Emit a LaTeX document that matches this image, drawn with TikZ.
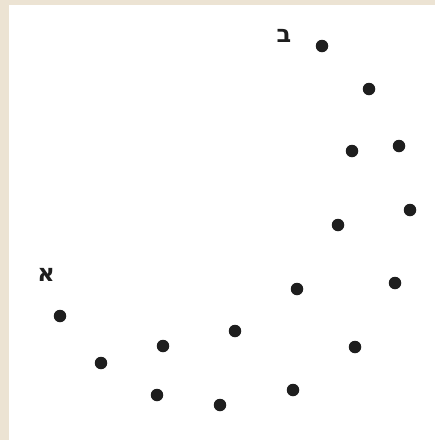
\documentclass[tikz,border=0pt]{standalone}
\usepackage{fontspec}
\TeXXeTstate=1
\newfontfamily\hebfont[Script=Hebrew]{DejaVu Sans}
\definecolor{paper}{RGB}{236,227,211}
\definecolor{ink}{RGB}{30,30,30}
\begin{document}
\begin{tikzpicture}[x=1pt,y=-1pt,
  dot/.style={circle,fill=ink,inner sep=0pt,minimum size=12.5pt},
  lbl/.style={font=\hebfont\bfseries\fontsize{24}{24}\selectfont,text=ink,inner sep=0pt}]
\useasboundingbox (0,0) rectangle (435,440);
\fill[paper] (0,0) rectangle (435,440);
\fill[white] (9,5) rectangle (435,440);
\node[dot] (p1) at (322,46) {};
\node[dot] (p2) at (369,89) {};
\node[dot] (p3) at (352,151) {};
\node[dot] (p4) at (399,146) {};
\node[dot] (p5) at (410,210) {};
\node[dot] (p6) at (338,225) {};
\node[dot] (p7) at (395,283) {};
\node[dot] (p8) at (297,289) {};
\node[dot] (p9) at (355,347) {};
\node[dot] (p10) at (235,331) {};
\node[dot] (p11) at (163,346) {};
\node[dot] (p12) at (60,316) {};
\node[dot] (p13) at (101,363) {};
\node[dot] (p14) at (157,395) {};
\node[dot] (p15) at (220,405) {};
\node[dot] (p16) at (293,390) {};
\node[lbl] (lb) at (284,36) {\beginR ב\endR};
\node[lbl] (la) at (46,275) {\beginR א\endR};
\end{tikzpicture}
\end{document}
